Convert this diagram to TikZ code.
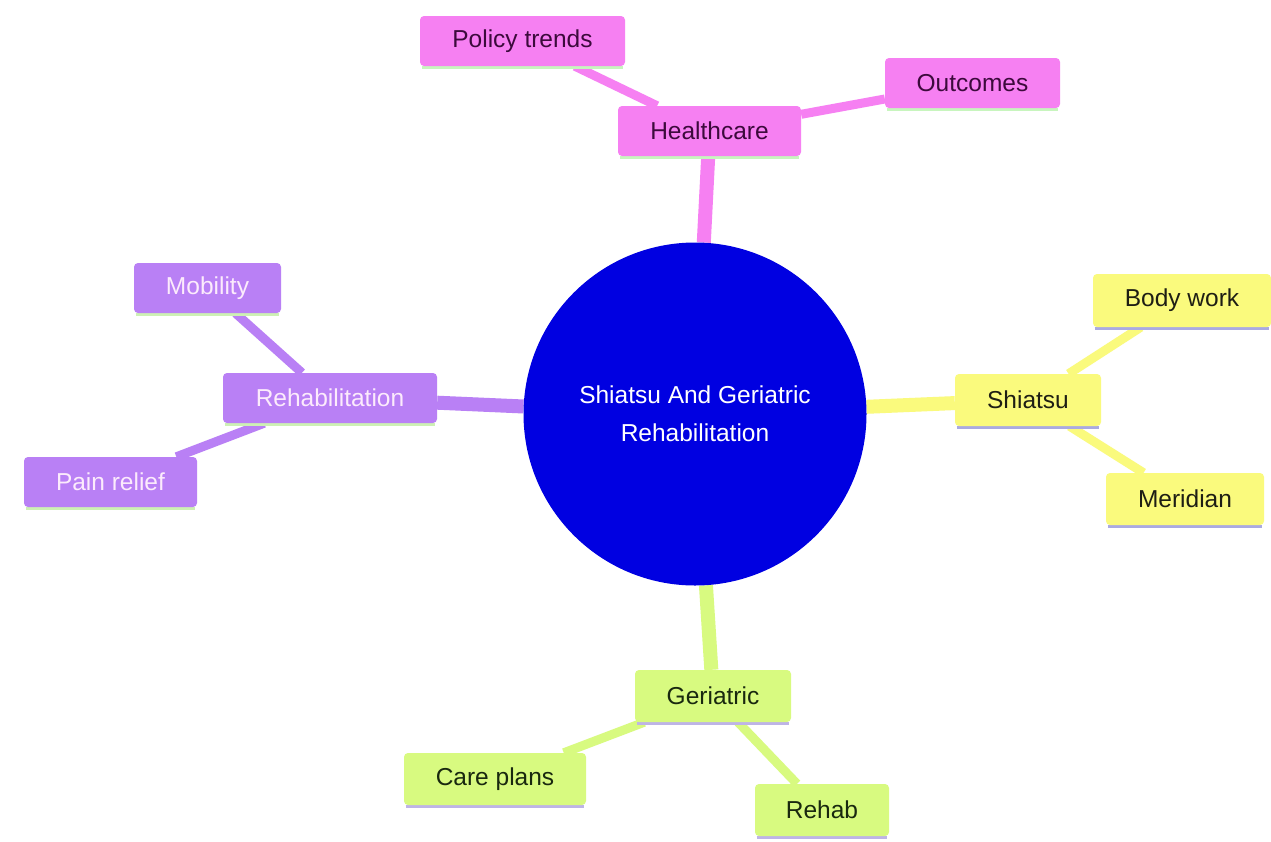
\documentclass[tikz,border=0pt]{standalone}
\usepackage{fontspec}
\setmainfont{Liberation Sans}
\definecolor{hcfill}{RGB}{246,128,242}
\definecolor{hctext}{RGB}{60,10,60}
\definecolor{hcul}{RGB}{200,245,190}
\definecolor{rbfill}{RGB}{185,128,245}
\definecolor{rbtext}{RGB}{252,235,252}
\definecolor{rbul}{RGB}{205,240,180}
\definecolor{shfill}{RGB}{250,250,125}
\definecolor{shtext}{RGB}{30,30,20}
\definecolor{shul}{RGB}{170,170,225}
\definecolor{gefill}{RGB}{216,250,128}
\definecolor{getext}{RGB}{25,40,15}
\definecolor{geul}{RGB}{190,180,230}
\definecolor{cblue}{RGB}{0,0,225}
\pgfdeclarelayer{bg}
\pgfdeclarelayer{edges}
\pgfsetlayers{bg,edges,main}
\tikzset{
  box/.style={rectangle, rounded corners=4pt, inner sep=0pt, font=\fontsize{24.5}{30}\selectfont},
  hcbox/.style={box, fill=hcfill, text=hctext},
  rbbox/.style={box, fill=rbfill, text=rbtext},
  shbox/.style={box, fill=shfill, text=shtext},
  gebox/.style={box, fill=gefill, text=getext},
  main/.style={line width=14pt},
  sub/.style={line width=9pt},
  ul/.style={line width=3pt},
}
\begin{document}
\begin{tikzpicture}[x=1pt,y=-1pt]
\begin{pgfonlayer}{bg}
\fill[white] (0,0) rectangle (1271,841);
\end{pgfonlayer}
\useasboundingbox (0,0) rectangle (1271,841);

\node[circle, fill=cblue, text=white, minimum size=343pt, inner sep=0pt, align=center,
      font=\fontsize{24.5}{38}\selectfont] (c) at (695,414) {Shiatsu And Geriatric\\Rehabilitation};

\node[hcbox, minimum width=183pt, minimum height=50pt] (hc) at (709.5,131) {Healthcare};
\node[hcbox, minimum width=205pt, minimum height=50pt] (pt) at (522.5,41) {Policy trends};
\node[hcbox, minimum width=175pt, minimum height=50pt] (oc) at (972.5,83) {Outcomes};

\node[rbbox, minimum width=214pt, minimum height=50pt] (rb) at (330,398) {Rehabilitation};
\node[rbbox, minimum width=147pt, minimum height=50pt] (mo) at (207.5,288) {Mobility};
\node[rbbox, minimum width=173pt, minimum height=50pt] (pr) at (110.5,482) {Pain relief};

\node[shbox, minimum width=146pt, minimum height=52pt] (sh) at (1028,400) {Shiatsu};
\node[shbox, minimum width=178pt, minimum height=53pt] (bw) at (1182,300.5) {Body work};
\node[shbox, minimum width=158pt, minimum height=52pt] (me) at (1185,499) {Meridian};

\node[gebox, minimum width=156pt, minimum height=52pt] (ge) at (713,696) {Geriatric};
\node[gebox, minimum width=182pt, minimum height=52pt] (cp) at (495,779) {Care plans};
\node[gebox, minimum width=134pt, minimum height=52pt] (re) at (822,810) {Rehab};

\begin{pgfonlayer}{edges}
\draw[hcfill, main] (hc) -- (c);
\draw[hcfill, sub] (hc) -- (pt);
\draw[hcfill, sub] (hc) -- (oc);
\draw[rbfill, main] (rb) -- (c);
\draw[rbfill, sub] (rb) -- (mo);
\draw[rbfill, sub] (rb) -- (pr);
\draw[shfill, main] (sh) -- (c);
\draw[shfill, sub] (sh) -- (bw);
\draw[shfill, sub] (sh) -- (me);
\draw[gefill, main] (ge) -- (c);
\draw[gefill, sub] (ge) -- (cp);
\draw[gefill, sub] (ge) -- (re);
\end{pgfonlayer}

\foreach \n/\u in {hc/hcul, pt/hcul, oc/hcul, rb/rbul, mo/rbul, pr/rbul, sh/shul, bw/shul, me/shul, ge/geul, cp/geul, re/geul}{
  \begin{pgfonlayer}{edges}
  \draw[\u, ul] ([xshift=2pt,yshift=-1pt]\n.south west) -- ([xshift=-2pt,yshift=-1pt]\n.south east);
  \end{pgfonlayer}
}
\end{tikzpicture}
\end{document}
